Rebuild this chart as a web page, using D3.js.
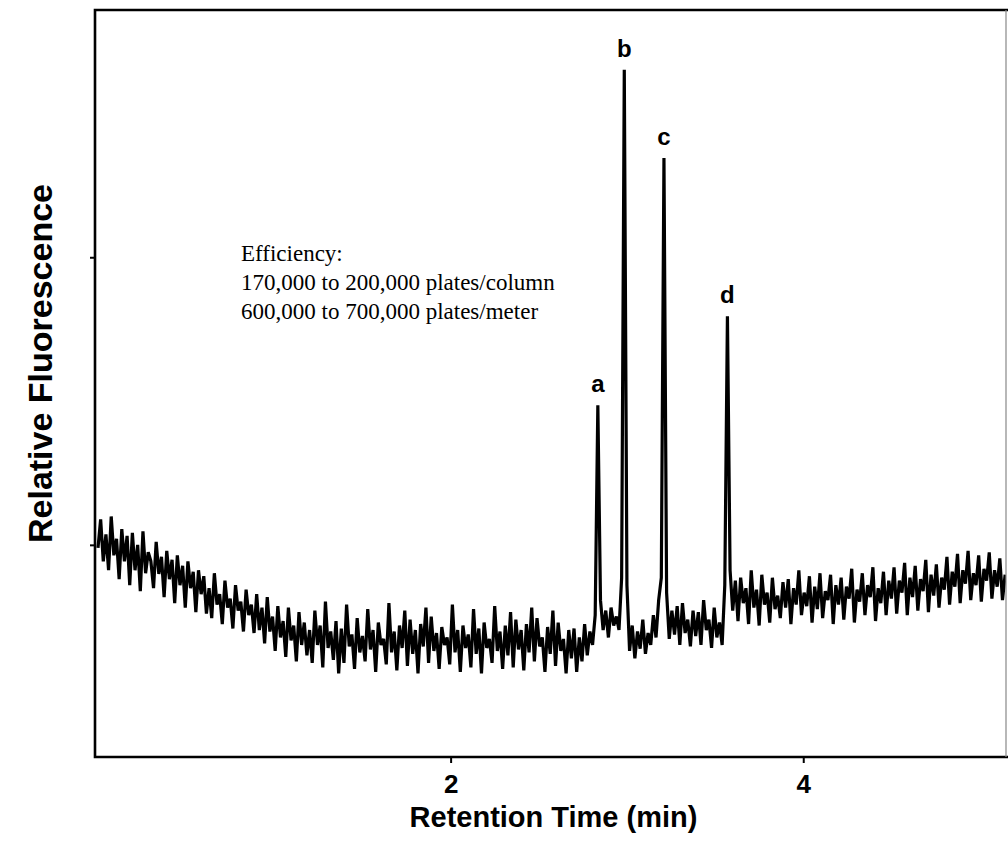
<!DOCTYPE html>
<html>
<head>
<meta charset="utf-8">
<script src="https://cdn.jsdelivr.net/npm/d3@7"></script>
<style>
  body { margin: 0; background: #fff; }
  svg { display: block; }
</style>
</head>
<body>
<div id="chart"></div>
<script>
// detector trace, one reading every sampleStep minutes starting at startTime
const signal = [
  280, 318, 262, 298, 250, 322, 270, 292, 238, 305, 262, 296, 230, 300, 250, 284, 222, 302, 246, 274,
  262, 226, 288, 245, 268, 214, 276, 238, 264, 206, 270, 230, 256, 200, 262, 226, 248, 194, 250, 218,
  242, 192, 226, 186, 246, 204, 218, 178, 236, 200, 212, 172, 230, 196, 208, 168, 224, 190, 204, 166,
  218, 170, 200, 152, 214, 168, 188, 142, 202, 160, 182, 134, 200, 156, 176, 128, 194, 150, 180, 136,
  170, 126, 196, 150, 176, 120, 208, 146, 168, 130, 182, 112, 172, 126, 204, 148, 164, 118, 186, 140,
  162, 128, 198, 144, 170, 114, 180, 150, 158, 124, 206, 140, 168, 116, 176, 146, 196, 122, 184, 138,
  170, 112, 178, 148, 200, 126, 188, 142, 166, 118, 174, 150, 160, 124, 204, 140, 170, 114, 176, 146,
  164, 120, 198, 138, 172, 112, 180, 146, 158, 126, 202, 142, 168, 118, 176, 136, 194, 120, 184, 144,
  170, 116, 178, 140, 200, 128, 186, 148, 160, 114, 174, 138, 196, 122, 180, 142, 158, 112, 170, 132,
  172, 114, 160, 128, 178, 136, 168, 150, 190, 471, 210, 170, 196, 160, 200, 176, 188, 170, 240, 920,
  230, 142, 176, 132, 168, 145, 184, 138, 166, 150, 190, 160, 210, 240, 802, 220, 158, 196, 164, 202,
  150, 206, 166, 184, 148, 196, 162, 194, 150, 210, 170, 184, 146, 200, 160, 180, 150, 230, 590, 250,
  196, 236, 182, 240, 206, 226, 178, 250, 200, 224, 176, 244, 204, 220, 180, 240, 198, 216, 186, 234,
  200, 238, 178, 226, 204, 250, 190, 220, 202, 242, 180, 228, 198, 246, 186, 222, 210, 244, 178, 230,
  204, 240, 184, 228, 212, 252, 180, 224, 208, 246, 190, 230, 214, 254, 182, 226, 206, 248, 190, 236,
  212, 254, 192, 236, 220, 260, 190, 240, 214, 256, 196, 238, 222, 264, 194, 244, 216, 258, 200, 240,
  224, 268, 204, 248, 228, 272, 206, 250, 232, 276, 210, 246, 230, 270, 208, 252, 236, 274, 212, 250,
  228, 266, 210, 244
];
const startTime = 0;
const sampleStep = 0.015;

const peakNames = ["a", "b", "c", "d"];
const peakTimes = [2.835, 2.985, 3.21, 3.57];
const peakHeights = [471, 920, 802, 590];

const xTicks = [2, 4];
const yTicks = [284, 669];

const noteLines = [
  "Efficiency:",
  "170,000 to 200,000 plates/column",
  "600,000 to 700,000 plates/meter"
];

const width = 1008, height = 849;
const margin = { top: 10, right: 2, bottom: 92, left: 95 };
const innerW = width - margin.left - margin.right;
const innerH = height - margin.top - margin.bottom;

const sansBold = "'Liberation Sans', Arial, Helvetica, sans-serif";

const svg = d3.select("#chart").append("svg")
  .attr("width", width)
  .attr("height", height);

const chart = svg.append("g")
  .attr("transform", `translate(${margin.left},${margin.top})`);

const x = d3.scaleLinear().domain([-0.017, 5.15]).range([0, innerW]);
const y = d3.scaleLinear().domain([0, 1000]).range([innerH, 0]);

const points = signal.map((v, i) => ({ t: startTime + i * sampleStep, v: v }));

chart.append("clipPath").attr("id", "clip")
  .append("rect").attr("width", innerW).attr("height", innerH);

const line = d3.line()
  .x(d => x(d.t))
  .y(d => y(d.v));

chart.append("path")
  .datum(points)
  .attr("clip-path", "url(#clip)")
  .attr("fill", "none")
  .attr("stroke", "#000")
  .attr("stroke-width", 3.2)
  .attr("stroke-linejoin", "bevel")
  .attr("d", line);

// frame: left, top and bottom heavy, right edge faint (cut by the scan)
chart.append("path")
  .attr("fill", "none")
  .attr("stroke", "#000")
  .attr("stroke-width", 2.6)
  .attr("d", `M${innerW + 2},0H0V${innerH}H${innerW + 2}`);
chart.append("line")
  .attr("x1", innerW).attr("x2", innerW)
  .attr("y1", 0).attr("y2", innerH)
  .attr("stroke", "#888")
  .attr("stroke-width", 1.2);

const xAxis = chart.append("g")
  .attr("transform", `translate(0,${innerH})`)
  .call(d3.axisBottom(x).tickValues(xTicks).tickSize(6).tickPadding(12).tickFormat(d3.format("d")));
xAxis.select(".domain").remove();
xAxis.selectAll("line").attr("stroke", "#000").attr("stroke-width", 2);
xAxis.selectAll("text")
  .attr("fill", "#000")
  .style("font-family", sansBold)
  .style("font-weight", "bold")
  .style("font-size", "26px");

const yAxis = chart.append("g")
  .call(d3.axisLeft(y).tickValues(yTicks).tickSize(5).tickFormat(""));
yAxis.select(".domain").remove();
yAxis.selectAll("line").attr("stroke", "#000").attr("stroke-width", 2);

svg.append("text")
  .attr("x", margin.left + innerW / 2 + 3)
  .attr("y", 827)
  .attr("text-anchor", "middle")
  .style("font-family", sansBold)
  .style("font-weight", "bold")
  .style("font-size", "29px")
  .text("Retention Time (min)");

svg.append("text")
  .attr("transform", `translate(52,${margin.top + innerH / 2 - 20}) rotate(-90)`)
  .attr("text-anchor", "middle")
  .style("font-family", sansBold)
  .style("font-weight", "bold")
  .style("font-size", "34px")
  .text("Relative Fluorescence");

chart.selectAll(".peak-label")
  .data(peakNames)
  .join("text")
  .attr("class", "peak-label")
  .attr("x", (d, i) => x(peakTimes[i]))
  .attr("y", (d, i) => y(peakHeights[i]) - 13)
  .attr("text-anchor", "middle")
  .style("font-family", sansBold)
  .style("font-weight", "bold")
  .style("font-size", "24px")
  .text(d => d);

svg.append("g")
  .selectAll("text")
  .data(noteLines)
  .join("text")
  .attr("x", 241)
  .attr("y", (d, i) => 261 + i * 29)
  .style("font-family", "'Liberation Serif', 'Times New Roman', serif")
  .style("font-size", "23px")
  .attr("fill", "#000")
  .text(d => d);
</script>
</body>
</html>
